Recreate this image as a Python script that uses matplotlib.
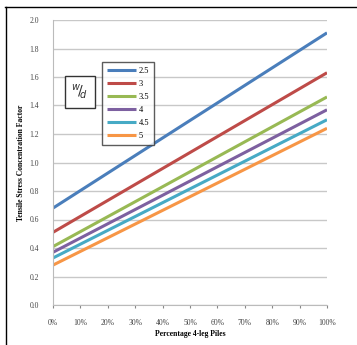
import numpy as np
import matplotlib.pyplot as plt
from matplotlib.lines import Line2D
from matplotlib.patches import Rectangle

plt.rcParams['font.family'] = ['Liberation Serif', 'DejaVu Serif']

# percentage of 4-leg piles (0% .. 100%)
pct = [0.0, 1.0]
ratios = ['2.5', '3', '3.5', '4', '4.5', '5']
scf_25 = [0.68, 1.91]
scf_3 = [0.51, 1.63]
scf_35 = [0.41, 1.46]
scf_4 = [0.37, 1.37]
scf_45 = [0.33, 1.30]
scf_5 = [0.28, 1.24]
colors = ['#4a7ebb', '#be4b48', '#98b954', '#7d60a0', '#46aac5', '#f79646']
xticks = np.arange(0, 1.01, 0.1)
xlabels = ['%d%%' % round(v * 100) for v in xticks]

fig = plt.figure(figsize=(3.57, 3.45), dpi=100)
ax = fig.add_axes([53/357, 40/345, 274/357, 285/345])

series = [scf_25, scf_3, scf_35, scf_4, scf_45, scf_5]
for r, s, c in zip(ratios, series, colors):
    ax.plot(pct, s, color=c, lw=2.2, label=r, solid_capstyle='butt')

ax.set_xlim(0, 1.0)
ax.set_ylim(0, 2.0)
ax.set_yticks(np.arange(0, 2.01, 0.2))
ax.set_yticklabels(['%.1f' % v for v in np.arange(0, 2.01, 0.2)])
ax.set_xticks(xticks)
ax.set_xticklabels(xlabels)
ax.tick_params(labelsize=5.5, colors='#888888', labelcolor='#444444', length=2)
ax.tick_params(axis='y', length=0, pad=10)
ax.tick_params(axis='x', pad=8)
ax.yaxis.grid(True, color='#c8c8c8', lw=1)
ax.set_axisbelow(True)
for s in ['top', 'right']:
    ax.spines[s].set_visible(False)
ax.spines['left'].set_color('#bbbbbb')
ax.spines['bottom'].set_color('#bbbbbb')

ax.set_xlabel('Percentage 4-leg Piles', fontsize=5.5, fontweight='bold', labelpad=2)
ax.set_ylabel('Tensile Stress Concentration Factor', fontsize=5.5, fontweight='bold', labelpad=3)

leg = ax.legend(loc='upper left', fontsize=6, frameon=True, fancybox=False,
                handlelength=3.4, handletextpad=0.4, labelspacing=0.6, borderpad=0.6)
leg.set_bbox_to_anchor((45/274, 1 - 38/285), transform=ax.transAxes)
leg.get_frame().set_edgecolor('#333333')
leg.get_frame().set_linewidth(1)

# w/d box
fig.patches.append(Rectangle((65/357, 1 - 108/345), 30/357, 32/345, transform=fig.transFigure,
                             fill=True, facecolor='white', edgecolor='#333333', lw=1))
fig.text(80/357, 1 - 92/345, r'$^{w}\!/\!_{d}$', fontsize=10, ha='center', va='center',
         color='#333333')

# outer frame lines
fig.add_artist(Line2D([5/357, 1], [1 - 7/345, 1 - 7/345], color='black', lw=1))
fig.add_artist(Line2D([6/357, 6/357], [0, 1 - 7/345], color='black', lw=1))

fig.savefig('out.png', dpi=100)
